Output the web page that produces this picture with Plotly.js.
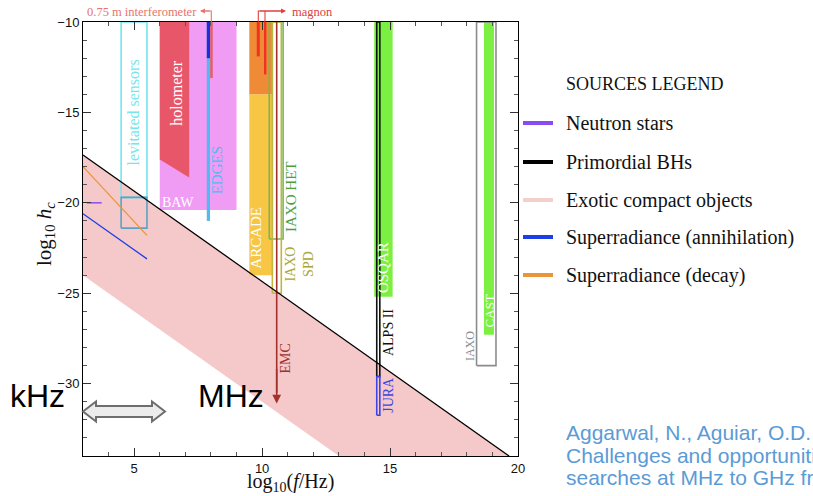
<!DOCTYPE html>
<html><head><meta charset="utf-8">
<script src="https://cdn.plot.ly/plotly-3.0.1.min.js"></script>
<style>html,body{margin:0;padding:0;background:#fff;}#chart{width:813px;height:496px;}</style>
</head><body><div id="chart"></div>
<script>
// ---- data (log10 f [Hz], log10 h_c) ----
const bandUpperX = [3, 19.65];
const bandUpperY = [-17.35, -34];
const bandLowerX = [3, 13.0];
const bandLowerY = [-24, -34];

const boxNames = ['BAW', 'ARCADE', 'ARCADE (upper)', 'OSQAR', 'CAST'];
const boxX0 = [6.0, 9.5, 9.5, 14.38, 18.67];
const boxX1 = [9.0, 10.43, 10.43, 15.1, 19.06];
const boxY0 = [-20.4, -24.0, -14.0, -25.2, -27.3];
const boxY1 = [-10, -14.0, -10, -10, -10];

const holoX = [6.0, 7.15, 7.15, 6.0];
const holoY = [-10, -10, -18.6, -17.6];

const outNames = ['levitated sensors', 'levitated (low)', 'IAXO HET', 'IAXO SPD', 'ALPS II', 'JURA', 'IAXO'];
const outX0 = [4.49, 4.49, 10.28, 10.4, 14.48, 14.48, 18.38];
const outX1 = [5.5, 5.5, 10.82, 10.75, 14.6, 14.6, 19.14];
const outY0 = [-19.7, -21.4, -22, -25, -29.6, -31.75, -29];
const outY1 = [-10, -19.7, -10, -10, -10, -29.6, -10];

const vNames = ['EDGES', 'EDGES (dark)', '0.75 m interferometer', 'magnon 1', 'magnon 2'];
const vX = [7.9, 7.9, 8.02, 9.85, 10.12];
const vY0 = [-21.0, -12.0, -13.1, -11.9, -12.9];
const vY1 = [-10, -10, -10, -10, -10];

const emcX = 10.57, emcTop = -10, emcBottom = -31.1;

const nsX = [3.15, 3.73], nsY = [-20, -20];
const annX = [3, 5.5], annY = [-20.6, -23.1];
const decX = [3, 5.5], decY = [-18.0, -21.8];

const legendLabels = ['Neutron stars', 'Primordial BHs', 'Exotic compact objects', 'Superradiance (annihilation)', 'Superradiance (decay)'];

// label names and positions
const lblText = ['levitated sensors', 'holometer', 'EDGES', 'ARCADE', 'IAXO HET', 'IAXO<br>SPD', 'EMC', 'OSQAR', 'ALPS II', 'JURA', 'CAST', 'IAXO'];
const lblX = [4.96, 6.64, 8.24, 9.78, 11.15, 11.45, 10.9, 14.73, 14.92, 14.93, 18.87, 18.1];
const lblY = [-15.0, -13.9, -18.2, -21.9, -19.7, -23.4, -28.6, -23.6, -27.2, -30.6, -26.0, -27.9];

// ---- styles ----
const boxColor = {'BAW': '#f19cf4', 'ARCADE': '#f6c644', 'ARCADE (upper)': '#ef8a36', 'OSQAR': '#7cf042', 'CAST': '#7cf042'};
const outColor = {'levitated sensors': '#74e6ee', 'levitated (low)': '#5aa3c6', 'IAXO HET': '#7cb650', 'IAXO SPD': '#bdb844', 'ALPS II': '#111111', 'JURA': '#3b45e6', 'IAXO': '#8c8c8c'};
const vColor = {'EDGES': '#52b9f2', 'EDGES (dark)': '#1b2ee0', '0.75 m interferometer': '#e0606e', 'magnon 1': '#f0321e', 'magnon 2': '#f0321e'};
const vWidth = {'EDGES': 3.2, 'EDGES (dark)': 3.2, '0.75 m interferometer': 2.6, 'magnon 1': 3, 'magnon 2': 2.4};
const lblColor = ['#74e6ee', '#ffffff', '#52b9f2', '#ffffff', '#4f9e3a', '#a9a63a', '#a3302a', '#ffffff', '#111111', '#3b45e6', '#ffffff', '#888888'];
const lblSize = [16, 16, 15, 15, 15, 14, 14, 15, 14, 14, 13, 12];
const legendColors = ['#8a4bf0', '#000000', '#f4d0cc', '#1c3fe6', '#ea953a'];

const serif = 'Liberation Serif, DejaVu Serif, serif';
const sans = 'Liberation Sans, Arial, sans-serif';

const traces = [];
// exotic compact objects band
traces.push({x: bandUpperX.concat(bandLowerX.slice().reverse()), y: bandUpperY.concat(bandLowerY.slice().reverse()),
  type: 'scatter', mode: 'lines', fill: 'toself', fillcolor: '#f5c9c9', line: {width: 0}, hoverinfo: 'skip', showlegend: false});
// filled boxes
boxNames.forEach((n, i) => {
  traces.push({x: [boxX0[i], boxX1[i], boxX1[i], boxX0[i], boxX0[i]], y: [boxY0[i], boxY0[i], boxY1[i], boxY1[i], boxY0[i]],
    type: 'scatter', mode: 'lines', fill: 'toself', fillcolor: boxColor[n], line: {width: 0}, name: n, showlegend: false});
});
// holometer
traces.push({x: holoX.concat([holoX[0]]), y: holoY.concat([holoY[0]]), type: 'scatter', mode: 'lines', fill: 'toself',
  fillcolor: '#e8566a', line: {width: 0}, name: 'holometer', showlegend: false});
// outline boxes
outNames.forEach((n, i) => {
  traces.push({x: [outX0[i], outX1[i], outX1[i], outX0[i], outX0[i]], y: [outY0[i], outY0[i], outY1[i], outY1[i], outY0[i]],
    type: 'scatter', mode: 'lines', line: {color: outColor[n], width: 1.6}, name: n, showlegend: false});
});
// vertical bars
vNames.forEach((n, i) => {
  traces.push({x: [vX[i], vX[i]], y: [vY0[i], vY1[i]], type: 'scatter', mode: 'lines',
    line: {color: vColor[n], width: vWidth[n]}, name: n, showlegend: false});
});
// EMC line
traces.push({x: [emcX, emcX], y: [emcTop, emcBottom + 0.6], type: 'scatter', mode: 'lines', line: {color: '#a3302a', width: 1.6}, showlegend: false, name: 'EMC'});
// sources
traces.push({x: nsX, y: nsY, type: 'scatter', mode: 'lines', line: {color: legendColors[0], width: 1.5}, showlegend: false});
traces.push({x: annX, y: annY, type: 'scatter', mode: 'lines', line: {color: legendColors[3], width: 1.3}, showlegend: false});
traces.push({x: decX, y: decY, type: 'scatter', mode: 'lines', line: {color: legendColors[4], width: 1.3}, showlegend: false});
// primordial BH upper bound line
traces.push({x: bandUpperX, y: bandUpperY, type: 'scatter', mode: 'lines', line: {color: '#000', width: 1.3}, showlegend: false});

// pixel -> paper helpers
const L = 83, R = 518, T = 22, B = 456;
const px = p => (p - L) / (R - L);
const py = p => (B - p) / (B - T);

const annotations = [];
lblText.forEach((t, i) => {
  annotations.push({x: lblX[i], y: lblY[i], xref: 'x', yref: 'y', xanchor: 'center', yanchor: 'middle', text: t, showarrow: false, textangle: -90,
    font: {family: serif, size: lblSize[i], color: lblColor[i]}});
});
annotations.push({x: 6.7, y: -20.0, xref: 'x', yref: 'y', xanchor: 'center', yanchor: 'middle', text: 'BAW', showarrow: false, font: {family: serif, size: 14, color: '#fff'}});
// EMC arrow head
annotations.push({x: emcX, y: emcBottom, xref: 'x', yref: 'y', ax: emcX, ay: emcBottom + 2, axref: 'x', ayref: 'y', text: '',
  showarrow: true, arrowhead: 2, arrowsize: 1.1, arrowwidth: 1.6, arrowcolor: '#a3302a'});
// top annotations
annotations.push({x: px(141.5), y: py(12), xref: 'paper', yref: 'paper', xanchor: 'center', yanchor: 'middle', text: '0.75 m interferometer', showarrow: false,
  font: {family: serif, size: 12.5, color: '#e8746e'}});
annotations.push({x: px(200), y: py(11), xref: 'paper', yref: 'paper', ax: 11, ay: 0, text: '', showarrow: true,
  arrowhead: 2, arrowsize: 0.9, arrowwidth: 1.1, arrowcolor: '#e8746e'});
annotations.push({x: px(312), y: py(12), xref: 'paper', yref: 'paper', xanchor: 'center', yanchor: 'middle', text: 'magnon', showarrow: false,
  font: {family: serif, size: 12.5, color: '#e0403c'}});
annotations.push({x: px(286), y: py(11), xref: 'paper', yref: 'paper', ax: -28, ay: 0, text: '', showarrow: true,
  arrowhead: 2, arrowsize: 0.9, arrowwidth: 1.1, arrowcolor: '#e0403c'});
// axis titles
annotations.push({x: px(290), y: py(482), xref: 'paper', yref: 'paper', xanchor: 'center', yanchor: 'middle', showarrow: false,
  text: 'log<sub>10</sub>(<i>f</i>/Hz)', font: {family: serif, size: 20, color: '#111'}});
annotations.push({x: px(45), y: py(234), xref: 'paper', yref: 'paper', xanchor: 'center', yanchor: 'middle', showarrow: false, textangle: -90,
  text: 'log<sub>10</sub> <i>h<sub>c</sub></i>', font: {family: serif, size: 21, color: '#111'}});
// legend
annotations.push({x: px(564), y: py(84), xref: 'paper', yref: 'paper', xanchor: 'left', yanchor: 'middle', text: 'SOURCES LEGEND', showarrow: false,
  font: {family: serif, size: 18, color: '#111'}});
const legY = [123, 162, 200, 237, 275];
legendLabels.forEach((t, i) => {
  annotations.push({x: px(564), y: py(legY[i]), xref: 'paper', yref: 'paper', xanchor: 'left', yanchor: 'middle', text: t, showarrow: false,
    font: {family: serif, size: 20, color: '#111'}});
});
// kHz / MHz
annotations.push({x: px(37), y: py(396), xref: 'paper', yref: 'paper', xanchor: 'center', yanchor: 'middle', text: 'kHz', showarrow: false, font: {family: sans, size: 32, color: '#000'}});
annotations.push({x: px(231), y: py(396), xref: 'paper', yref: 'paper', xanchor: 'center', yanchor: 'middle', text: 'MHz', showarrow: false, font: {family: sans, size: 32, color: '#000'}});
// citation
const cite = ['Aggarwal, N., Aguiar, O.D. et al.', 'Challenges and opportunities of gravitational-wave', 'searches at MHz to GHz frequencies'];
const citeY = [432, 455.5, 478];
cite.forEach((t, i) => {
  annotations.push({x: px(564), y: py(citeY[i]), xref: 'paper', yref: 'paper', xanchor: 'left', yanchor: 'middle', text: t, showarrow: false,
    font: {family: sans, size: 21, color: '#5b9bd5'}});
});

const shapes = [];
legY.forEach((y, i) => {
  shapes.push({type: 'line', xref: 'paper', yref: 'paper', x0: px(523), x1: px(553), y0: py(y), y1: py(y),
    line: {color: legendColors[i], width: 4}});
});
// interferometer bracket
shapes.push({type: 'path', xref: 'paper', yref: 'paper', path: `M${px(211.3)},${py(22)} L${px(211.3)},${py(11)} L${px(201)},${py(11)}`,
  line: {color: '#e8746e', width: 1.1}});
// magnon bracket
shapes.push({type: 'path', xref: 'paper', yref: 'paper',
  path: `M${px(258.3)},${py(22)} L${px(258.3)},${py(11)} L${px(284)},${py(11)} M${px(265)},${py(22)} L${px(265)},${py(11)}`,
  line: {color: '#e0403c', width: 1.1}});
// double arrow
const ap = [[83, 411.5], [96, 401.5], [96, 406], [152, 406], [152, 401.5], [165, 411.5], [152, 421.5], [152, 417], [96, 417], [96, 421.5]];
shapes.push({type: 'path', xref: 'paper', yref: 'paper', path: 'M' + ap.map(p => px(p[0]) + ',' + py(p[1])).join(' L') + ' Z',
  fillcolor: '#ececec', line: {color: '#6e6e6e', width: 2}});

const axisCommon = {showline: true, linecolor: '#000', linewidth: 1, mirror: 'allticks', ticks: 'inside', ticklen: 8,
  tickcolor: '#333', tickwidth: 1, showgrid: false, zeroline: false, tick0: 0, dtick: 5,
  tickfont: {family: sans, size: 13, color: '#111'},
  minor: {ticks: 'inside', ticklen: 4, dtick: 1, tickcolor: '#555', tickwidth: 1, showgrid: false}};

const layout = {
  width: 813, height: 496, margin: {l: L, r: 813 - R, t: T, b: 496 - B},
  paper_bgcolor: '#fff', plot_bgcolor: '#fff', showlegend: false,
  xaxis: Object.assign({}, axisCommon, {range: [3, 20]}),
  yaxis: Object.assign({}, axisCommon, {range: [-34, -10]}),
  annotations: annotations, shapes: shapes
};
Plotly.newPlot('chart', traces, layout, {displayModeBar: false, staticPlot: true});
</script></body></html>
